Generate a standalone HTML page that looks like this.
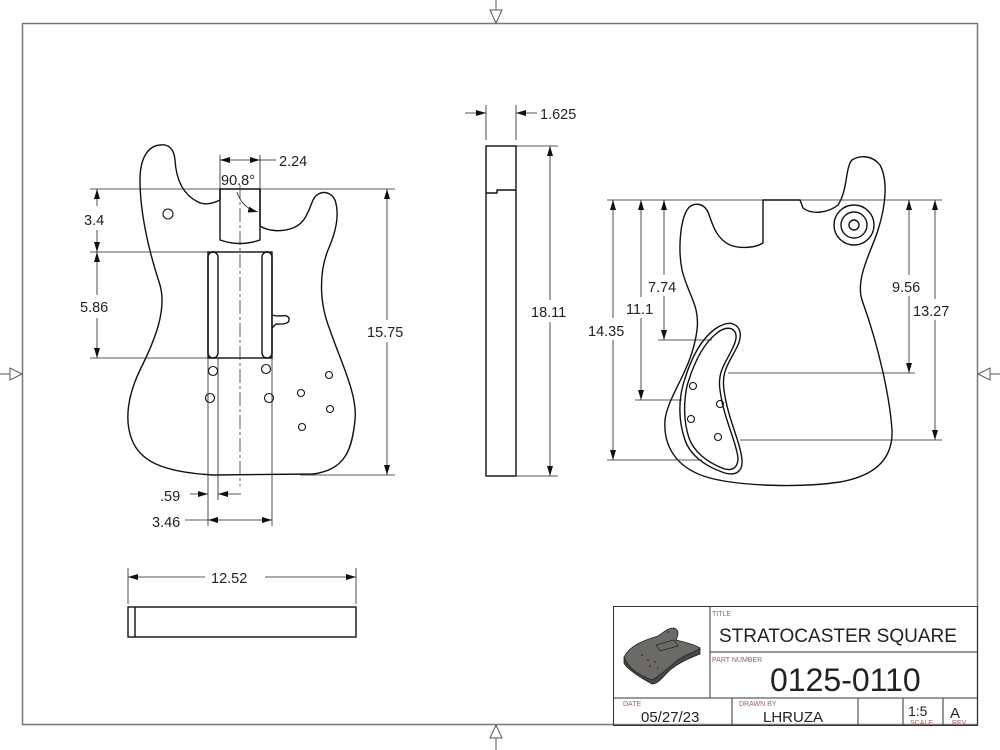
<!DOCTYPE html>
<html><head><meta charset="utf-8"><style>
html,body{margin:0;padding:0;background:#fff}
svg{display:block}
text{font-family:"Liberation Sans",sans-serif;fill:#222}
</style></head><body>
<svg width="1000" height="750" viewBox="0 0 1000 750" xmlns="http://www.w3.org/2000/svg">
<defs>
<marker id="a" markerWidth="10" markerHeight="6" refX="10" refY="3" orient="auto-start-reverse" markerUnits="userSpaceOnUse"><path d="M0,0 L10,3 L0,6 Z" fill="#111"/></marker>
</defs>
<rect x="22.5" y="23.5" width="955" height="701" fill="none" stroke="#777" stroke-width="1.5"/>
<g fill="none" stroke="#555" stroke-width="1">
<line x1="496" y1="0" x2="496" y2="10"/><path d="M490,10 L502,10 L496,23 Z"/>
<line x1="496" y1="750" x2="496" y2="738"/><path d="M490,738 L502,738 L496,725 Z"/>
<line x1="0" y1="374" x2="10" y2="374"/><path d="M10,368 L10,380 L22,374 Z"/>
<line x1="1000" y1="374" x2="990" y2="374"/><path d="M990,368 L990,380 L978,374 Z"/>
</g>

<g fill="none" stroke="#111" stroke-width="1.4">
<path d="M220,189 L220,200 C212,204 204,205 198,202 C182,194 176,178 175,160 C174,148 168,144 160,145 C148,146 140,158 140,180 C140,215 150,255 160,285 C167,310 155,340 140,370 C128,395 124,420 132,440 C140,460 160,472 213,475 L313,474 C345,470 352,450 355,420 C358,395 340,360 330,330 C318,300 320,270 328,250 C336,232 340,215 335,200 C330,190 318,190 313,200 C308,212 305,225 290,229 C280,232 268,231 260,226 L260,189"/>
<path d="M220,189 L260,189 L260,240 Q240,247 220,240 Z"/>
<rect x="208" y="252" width="64" height="106"/>
<rect x="208" y="252" width="10" height="106" rx="5"/>
<rect x="262" y="252" width="10" height="106" rx="5"/>
<path d="M272,315 C280,318 286,313 289,318 C290,325 282,324 276,324 L272,328"/>
<rect x="486" y="146" width="30" height="330"/>
<path d="M486,193 L497,193 L497,190 L516,190"/>
<rect x="128" y="607" width="228" height="30"/>
<line x1="135" y1="607" x2="135" y2="637"/>
<path d="M763,200 L763,243 C755,248 740,249 730,245 C715,238 712,222 708,212 C703,202 692,202 687,210 C680,222 678,250 682,270 C688,295 700,305 697,330 C692,370 668,395 665,420 C663,450 680,470 710,478 C740,486 800,488 840,482 C880,475 893,455 892,430 C890,400 880,350 862,300 C855,278 872,250 878,230 C886,205 888,180 880,165 C872,155 860,155 852,160 C845,168 848,190 838,205 C828,213 812,215 803,208 L800,200 Z"/>
<circle cx="854" cy="225" r="20"/><circle cx="854" cy="225" r="13"/><circle cx="854" cy="225" r="5"/>
<path d="M733,324 C741,327 742,335 738,345 C730,362 721,370 724,390 C728,420 740,440 742,460 C743,472 735,477 722,472 C705,466 690,455 685,440 C678,420 679,400 683,385 C690,360 700,340 715,329 C721,325 728,322 733,324 Z"/>
<path d="M732,329 C737,332 737,338 734,345 C727,362 717,370 720,390 C724,420 736,440 738,458 C738,468 732,472 722,468 C707,462 694,452 689,438 C683,420 684,400 687,386 C694,362 704,343 717,333 C722,329 727,327 732,329 Z"/>
</g>
<g fill="none" stroke="#111" stroke-width="1.1">
<circle cx="168" cy="214" r="5"/>
<circle cx="213" cy="371" r="4.5"/><circle cx="266" cy="369" r="4.5"/>
<circle cx="210" cy="398" r="4.5"/><circle cx="269" cy="398" r="4.5"/>
<circle cx="329" cy="375" r="3.5"/><circle cx="301" cy="393" r="3.5"/>
<circle cx="330" cy="409" r="3.5"/><circle cx="302" cy="427" r="3.5"/>
<circle cx="693" cy="386" r="3.5"/><circle cx="720" cy="404" r="3.5"/>
<circle cx="691" cy="419" r="3.5"/><circle cx="718" cy="437" r="3.5"/>
</g>
<line x1="240" y1="185" x2="240" y2="486" stroke="#333" stroke-width="0.8" stroke-dasharray="14,3,3,3"/>

<g stroke="#222" stroke-width="0.8" fill="none">
<line x1="220" y1="155" x2="220" y2="189"/><line x1="260" y1="155" x2="260" y2="189"/>
<line x1="220" y1="160" x2="260" y2="160" marker-start="url(#a)" marker-end="url(#a)"/>
<line x1="260" y1="160" x2="276" y2="160"/>
<path d="M237,192 Q242,208 258,212" marker-end="url(#a)"/>
<line x1="90" y1="189" x2="220" y2="189"/><line x1="260" y1="189" x2="395" y2="189"/>
<line x1="90" y1="252" x2="208" y2="252"/><line x1="90" y1="358" x2="208" y2="358"/>
<line x1="300" y1="475" x2="395" y2="475"/>
<line x1="97" y1="189" x2="97" y2="206" marker-start="url(#a)"/><line x1="97" y1="230" x2="97" y2="252" marker-end="url(#a)"/>
<line x1="97" y1="252" x2="97" y2="295" marker-start="url(#a)"/><line x1="97" y1="318" x2="97" y2="358" marker-end="url(#a)"/>
<line x1="387" y1="189" x2="387" y2="320" marker-start="url(#a)"/><line x1="387" y1="342" x2="387" y2="475" marker-end="url(#a)"/>
<line x1="208" y1="358" x2="208" y2="526"/><line x1="218" y1="358" x2="218" y2="500"/><line x1="272" y1="358" x2="272" y2="526"/>
<line x1="190" y1="494" x2="208" y2="494" marker-end="url(#a)"/><line x1="241" y1="494" x2="218" y2="494" marker-end="url(#a)"/>
<line x1="185" y1="520" x2="208" y2="520"/>
<line x1="208" y1="520" x2="272" y2="520" marker-start="url(#a)" marker-end="url(#a)"/>
<line x1="486" y1="105" x2="486" y2="140"/><line x1="516" y1="105" x2="516" y2="140"/>
<line x1="465" y1="113" x2="486" y2="113" marker-end="url(#a)"/><line x1="537" y1="113" x2="516" y2="113" marker-end="url(#a)"/>
<line x1="516" y1="146" x2="558" y2="146"/><line x1="516" y1="476" x2="558" y2="476"/>
<line x1="550" y1="146" x2="550" y2="300" marker-start="url(#a)"/><line x1="550" y1="322" x2="550" y2="476" marker-end="url(#a)"/>
<line x1="128" y1="568" x2="128" y2="604"/><line x1="356" y1="568" x2="356" y2="604"/>
<line x1="128" y1="577" x2="205" y2="577" marker-start="url(#a)"/><line x1="265" y1="577" x2="356" y2="577" marker-end="url(#a)"/>
<line x1="607" y1="200" x2="763" y2="200"/><line x1="800" y1="200" x2="942" y2="200"/>
<line x1="658" y1="340" x2="712" y2="340"/>
<line x1="635" y1="400" x2="682" y2="400"/>
<line x1="607" y1="460" x2="702" y2="460"/>
<line x1="728" y1="373" x2="915" y2="373"/>
<line x1="740" y1="440" x2="942" y2="440"/>
<line x1="613" y1="200" x2="613" y2="318" marker-start="url(#a)"/><line x1="613" y1="340" x2="613" y2="460" marker-end="url(#a)"/>
<line x1="641" y1="200" x2="641" y2="297" marker-start="url(#a)"/><line x1="641" y1="318" x2="641" y2="400" marker-end="url(#a)"/>
<line x1="664" y1="200" x2="664" y2="275" marker-start="url(#a)"/><line x1="664" y1="296" x2="664" y2="340" marker-end="url(#a)"/>
<line x1="909" y1="200" x2="909" y2="275" marker-start="url(#a)"/><line x1="909" y1="296" x2="909" y2="373" marker-end="url(#a)"/>
<line x1="935" y1="200" x2="935" y2="299" marker-start="url(#a)"/><line x1="935" y1="320" x2="935" y2="440" marker-end="url(#a)"/>
</g>
<g font-size="14.5">
<text x="279" y="166">2.24</text>
<text x="221" y="185">90.8°</text>
<text x="84" y="225">3.4</text>
<text x="80" y="312">5.86</text>
<text x="367" y="337">15.75</text>
<text x="160" y="501">.59</text>
<text x="152" y="527">3.46</text>
<text x="540" y="119">1.625</text>
<text x="531" y="317">18.11</text>
<text x="211" y="583">12.52</text>
<text x="648" y="292">7.74</text>
<text x="626" y="314">11.1</text>
<text x="588" y="336">14.35</text>
<text x="892" y="292">9.56</text>
<text x="913" y="316">13.27</text>
</g>

<g fill="none" stroke="#333" stroke-width="1">
<rect x="613.5" y="606.5" width="364" height="119"/>
<line x1="710" y1="606" x2="710" y2="698"/>
<line x1="710" y1="652" x2="978" y2="652"/>
<line x1="613" y1="698" x2="978" y2="698"/>
<line x1="732" y1="698" x2="732" y2="726"/>
<line x1="858" y1="698" x2="858" y2="726"/>
<line x1="903" y1="698" x2="903" y2="726"/>
<line x1="943" y1="698" x2="943" y2="726"/>
</g>
<g font-size="7">
<text x="712" y="616" style="fill:#a06060">TITLE</text>
<text x="712" y="662" style="fill:#a06060">PART NUMBER</text>
<text x="623" y="706" style="fill:#a06060">DATE</text>
<text x="739" y="706" style="fill:#a06060">DRAWN BY</text>
<text x="910" y="725" style="fill:#a06060">SCALE</text>
<text x="952" y="725" style="fill:#a06060">REV</text>
</g>
<text x="719" y="642" font-size="19">STRATOCASTER SQUARE</text>
<text x="770" y="691" font-size="32">0125-0110</text>
<text x="641" y="722" font-size="15">05/27/23</text>
<text x="763" y="722" font-size="15">LHRUZA</text>
<text x="908" y="716" font-size="14">1:5</text>
<text x="950" y="718" font-size="15">A</text>
<path d="M624,657 L624,663 C626,668 635,674 645,680 L652,684 C658,684 662,678 670,670 C680,662 690,658 700,654 L700,648 Z" fill="#4a4846" stroke="#222" stroke-width="0.8"/>
<path d="M624,657 C630,645 645,640 658,636 C664,632 668,628 674,628 C680,630 678,636 676,640 C684,642 694,644 700,648 C696,652 686,654 678,660 C668,668 660,676 652,680 C640,676 628,668 624,657 Z" fill="#6c6a66" stroke="#222" stroke-width="0.8"/>
<path d="M656,645 L674,640 L678,646 L660,651 Z" fill="none" stroke="#222" stroke-width="0.7"/>
<g fill="#222"><circle cx="642" cy="655" r="0.8"/><circle cx="648" cy="660" r="0.8"/><circle cx="655" cy="662" r="0.8"/><circle cx="650" cy="666" r="0.8"/><circle cx="658" cy="668" r="0.8"/><circle cx="668" cy="632" r="0.8"/></g>
</svg>
</body></html>
